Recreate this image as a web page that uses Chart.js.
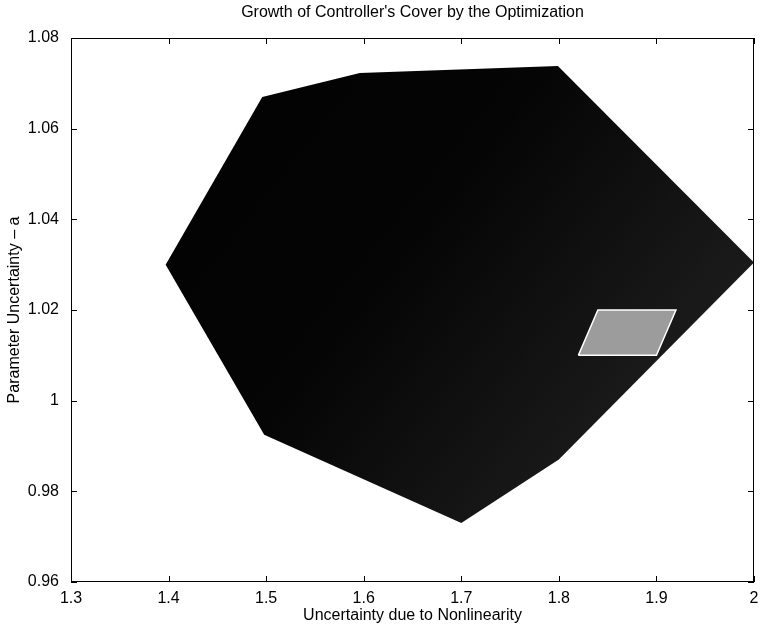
<!DOCTYPE html>
<html>
<head>
<meta charset="utf-8">
<script src="https://cdn.jsdelivr.net/npm/chart.js@4"></script>
<style>
  html,body{margin:0;padding:0;background:#fff;}
  #wrap{width:760px;height:633px;}
</style>
</head>
<body>
<div id="wrap"><canvas id="chart" width="760" height="633"></canvas></div>
<script>
// cover polygon reached after optimization (vertices in order)
const coverX = [1.397, 1.496, 1.596, 1.799, 2.000, 1.800, 1.700, 1.498];
const coverY = [1.030, 1.067, 1.0723, 1.0738, 1.0305, 0.987, 0.973, 0.9925];
// initial cover (small parallelogram)
const initX = [1.820, 1.840, 1.920, 1.900];
const initY = [1.010, 1.020, 1.020, 1.010];

const xMin = 1.3, xMax = 2.0, xStep = 0.1;
const yMin = 0.96, yMax = 1.08, yStep = 0.02;

const TITLE = "Growth of Controller's Cover by the Optimization";
const X_LABEL = 'Uncertainty due to Nonlinearity';
const Y_LABEL = 'Parameter Uncertainty \u2013 a';
const FONT = '"Liberation Sans", Arial, Helvetica, sans-serif';

const closed = (xs, ys) => xs.map((x,i)=>({x, y:ys[i]})).concat([{x:xs[0], y:ys[0]}]);
const fmt = v => String(Number(v.toFixed(2)));

function coverFill(ctx){
  const a = ctx.chart.chartArea; if(!a) return '#111';
  const g = ctx.chart.ctx.createLinearGradient(a.left, a.top, a.right, a.bottom);
  g.addColorStop(0, '#000'); g.addColorStop(0.45, '#050505'); g.addColorStop(1, '#2a2a2a');
  return g;
}

// MATLAB-like box with inward ticks, plus a title centred over the plot area
const boxPlugin = {
  id: 'box',
  afterDraw(chart){
    const {ctx, chartArea:a, scales:{x, y}} = chart;
    const len = 6;
    ctx.save();
    ctx.strokeStyle = '#000'; ctx.lineWidth = 1;
    ctx.strokeRect(a.left+0.5, a.top+0.5, a.right-a.left-1, a.bottom-a.top-1);
    ctx.beginPath();
    x.ticks.forEach(t=>{
      const px = Math.round(x.getPixelForValue(t.value))+0.5;
      ctx.moveTo(px, a.bottom); ctx.lineTo(px, a.bottom-len);
      ctx.moveTo(px, a.top); ctx.lineTo(px, a.top+len);
    });
    y.ticks.forEach(t=>{
      const py = Math.round(y.getPixelForValue(t.value))+0.5;
      ctx.moveTo(a.left, py); ctx.lineTo(a.left+len, py);
      ctx.moveTo(a.right, py); ctx.lineTo(a.right-len, py);
    });
    ctx.stroke();
    ctx.fillStyle = '#000'; ctx.font = '16px ' + FONT;
    ctx.textAlign = 'center'; ctx.textBaseline = 'middle';
    ctx.fillText(TITLE, (a.left+a.right)/2, 13);
    ctx.restore();
  }
};

new Chart(document.getElementById('chart'), {
  type: 'scatter',
  data: {
    datasets: [
      {label:'initial', data: closed(initX, initY), showLine:true, fill:'shape',
       backgroundColor:'#9c9c9c', borderColor:'#fff', borderWidth:1.5, pointRadius:0, tension:0},
      {label:'cover', data: closed(coverX, coverY), showLine:true, fill:'shape',
       backgroundColor: coverFill, borderColor:'rgba(0,0,0,0)', borderWidth:0, pointRadius:0, tension:0}
    ]
  },
  options: {
    responsive:false, animation:false,
    layout:{padding:{left:0, right:0, top:38, bottom:0}},
    plugins:{legend:{display:false}, tooltip:{enabled:false}, title:{display:false}},
    scales:{
      x:{type:'linear', min:xMin, max:xMax,
         grid:{display:false, drawTicks:false}, border:{display:false},
         ticks:{stepSize:xStep, padding:7, color:'#000', font:{family:FONT, size:16}, callback:fmt, maxRotation:0},
         title:{display:true, text:X_LABEL, color:'#000', font:{family:FONT, size:16}, padding:{top:0, bottom:8}},
         afterFit(s){ s.height = 51; s.paddingLeft = 0; s.paddingRight = 6; }},
      y:{type:'linear', min:yMin, max:yMax,
         grid:{display:false, drawTicks:false}, border:{display:false},
         ticks:{stepSize:yStep, padding:12, color:'#000', font:{family:FONT, size:16}, callback:fmt},
         title:{display:true, text:Y_LABEL, color:'#000', font:{family:FONT, size:16}, padding:{top:5, bottom:0}},
         afterFit(s){ s.width = 71; }}
    }
  },
  plugins:[boxPlugin]
});
</script>
</body>
</html>
